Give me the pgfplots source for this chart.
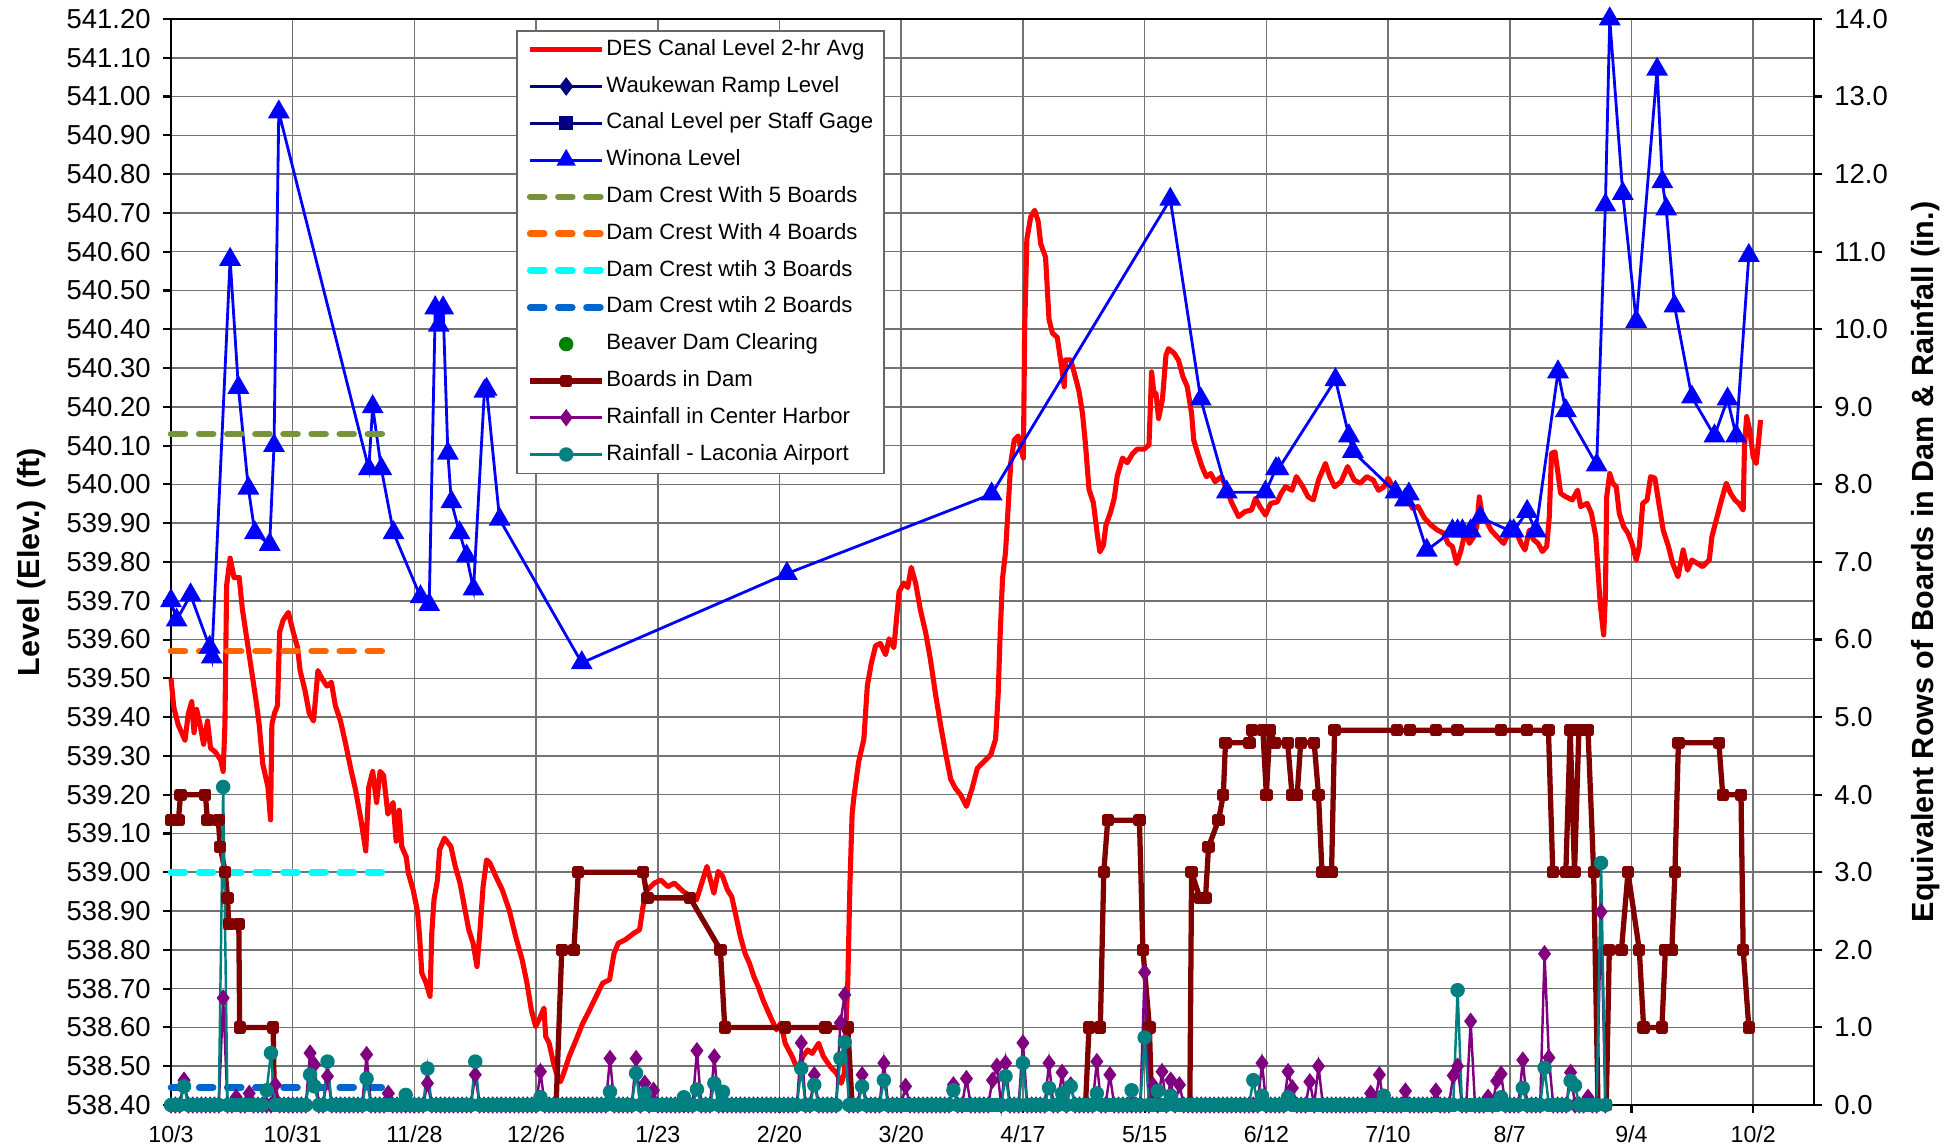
\documentclass[border=0pt]{standalone}
\usepackage{fontspec}
\setmainfont{Liberation Sans}
\usepackage{pgfplots}
\pgfplotsset{compat=1.18}
\usepackage{pgfplotstable}
\usetikzlibrary{calc}

\definecolor{canal}{RGB}{255,0,0}
\definecolor{winona}{RGB}{0,0,255}
\definecolor{navy}{RGB}{0,0,128}
\definecolor{crestfive}{RGB}{119,147,60}
\definecolor{crestfour}{RGB}{255,102,0}
\definecolor{crestthree}{RGB}{0,255,255}
\definecolor{cresttwo}{RGB}{0,102,204}
\definecolor{beaver}{RGB}{0,128,0}
\definecolor{boards}{RGB}{128,0,0}
\definecolor{harbor}{RGB}{128,0,128}
\definecolor{laconia}{RGB}{0,128,128}

% day 0 = 10/3
\pgfplotstableread{
d v
0 539.50
0.65 539.425
1.67 539.38
3.22 539.34
4.0 539.41
4.78 539.44
5.3 539.36
5.9 539.42
6.7 539.38
7.5 539.33
8.4 539.39
9.1 539.32
10.2 539.31
11.4 539.29
12.0 539.26
12.4 539.38
12.8 539.74
13.6 539.81
14.5 539.76
15.7 539.76
16.4 539.68
17.2 539.62
18.4 539.53
19.6 539.44
20.3 539.38
21.1 539.28
22.3 539.22
22.9 539.135
23.2 539.38
23.8 539.41
24.5 539.43
25.0 539.62
25.8 539.65
27.0 539.67
28.1 539.62
29.1 539.58
29.7 539.52
30.8 539.47
31.8 539.41
32.8 539.39
33.8 539.52
34.7 539.50
35.9 539.48
36.9 539.49
37.8 539.43
39.0 539.39
40.2 539.33
41.3 539.27
42.5 539.21
43.7 539.135
44.8 539.055
45.5 539.22
46.4 539.26
47.3 539.18
48.1 539.26
48.9 539.25
49.9 539.15
51.1 539.18
51.8 539.08
52.5 539.16
53.1 539.066
54.1 539.04
54.6 538.998
55.7 538.955
56.7 538.90
57.2 538.834
57.7 538.74
58.7 538.714
59.6 538.68
60.0 538.843
60.5 538.929
61.3 538.98
61.8 539.058
62.9 539.088
64.4 539.066
65.4 539.015
66.5 538.972
67.5 538.912
68.5 538.852
69.5 538.817
70.4 538.757
71.1 538.852
71.8 538.963
72.6 539.032
73.4 539.023
74.7 538.99
76.2 538.955
77.8 538.903
79.3 538.834
80.8 538.774
81.9 538.714
82.9 538.645
83.9 538.602
85.0 538.628
85.8 538.65
86.2 538.577
87.0 538.559
88.0 538.508
88.9 538.473
89.6 538.46
90.6 538.49
91.6 538.525
93.2 538.568
94.7 538.61
96.3 538.645
97.8 538.68
99.3 538.714
100.9 538.723
101.9 538.79
102.9 538.817
104.5 538.826
106.5 538.843
107.8 538.852
108.6 538.912
109.6 538.955
111.2 538.972
112.7 538.98
114.3 538.963
115.8 538.972
117.9 538.95
120.9 538.929
123.3 539.015
124.3 538.972
124.9 538.946
125.9 539.002
126.9 538.99
128.0 538.955
129.0 538.937
130.0 538.886
131.0 538.834
132.1 538.79
133.1 538.765
134.1 538.731
135.1 538.705
136.2 538.671
137.2 538.645
138.2 538.62
139.3 538.594
140.3 538.611
141.3 538.559
142.9 538.525
144.2 538.49
145.4 538.525
146.5 538.542
147.5 538.533
149.0 538.559
150.1 538.525
151.6 538.50
153.1 538.482
154.2 538.456
154.9 538.482
155.2 538.585
155.7 538.714
156.2 538.97
156.7 539.15
157.1 539.193
158.2 539.285
159.4 539.343
160.2 539.481
161.1 539.538
162.1 539.584
163.2 539.59
164.4 539.561
165.2 539.602
166.3 539.579
167.5 539.723
168.6 539.746
169.5 539.734
170.3 539.786
171.3 539.746
172.4 539.677
173.6 539.619
174.7 539.55
175.9 539.458
177.1 539.377
178.2 539.308
179.4 539.239
180.5 539.216
181.7 539.199
183.0 539.17
184.3 539.216
185.5 539.268
187.0 539.285
188.6 539.303
189.7 539.343
190.3 539.458
190.7 539.596
191.3 539.757
192.0 539.826
192.6 539.941
193.2 540.056
194.0 540.114
194.9 540.125
195.5 540.091
196.1 540.068
196.4 540.402
196.9 540.632
197.8 540.69
198.7 540.707
199.5 540.678
200.1 540.62
201.2 540.586
202.0 540.425
202.8 540.39
203.9 540.379
204.8 540.31
205.5 540.252
205.8 540.321
207.0 540.321
208.1 540.275
208.9 540.24
209.7 540.183
210.4 540.102
211.2 539.987
212.2 539.953
213.1 539.872
213.7 539.826
214.5 539.843
215.1 539.895
216.2 539.93
217.0 539.964
217.7 540.022
218.9 540.068
220.0 540.056
221.2 540.079
222.3 540.091
223.9 540.091
225.0 540.102
225.6 540.29
226.2 540.23
226.6 540.235
227.2 540.17
228.1 540.22
228.9 540.333
229.5 540.35
230.8 540.338
231.8 540.32
232.8 540.278
233.8 540.252
234.8 540.183
235.3 540.114
236.2 540.08
237.2 540.046
238.2 540.02
239.2 540.028
240.2 540.007
241.7 540.02
242.6 539.994
244.1 539.951
245.6 539.917
247.1 539.93
248.6 539.934
249.5 539.964
250.5 539.943
251.8 539.921
253.0 539.951
254.5 539.955
255.4 539.977
256.4 539.994
257.9 539.985
258.9 540.02
260.4 539.994
261.6 539.968
262.8 539.96
264.0 540.011
265.6 540.054
266.6 540.02
267.7 539.994
269.2 540.007
270.7 540.046
272.2 540.011
273.6 540.003
275.1 540.02
276.6 540.011
277.8 539.985
279.1 539.994
280.0 540.016
281.5 539.985
283.0 539.968
284.5 539.96
285.7 539.938
286.9 539.943
288.4 539.913
289.9 539.895
291.4 539.882
292.8 539.874
293.8 539.848
294.8 539.84
295.8 539.796
296.8 539.831
297.8 539.882
298.7 539.848
299.7 539.865
300.4 539.891
301.0 539.968
301.7 539.917
302.7 539.904
303.7 539.882
305.1 539.865
306.6 539.848
308.1 539.882
309.6 539.874
310.6 539.848
311.5 539.831
312.5 539.882
313.5 539.857
314.5 539.848
315.5 539.827
316.5 539.84
317.1 539.917
317.6 540.08
318.4 540.084
319.1 540.028
319.7 539.977
320.9 539.968
322.4 539.96
323.6 539.985
324.3 539.943
325.8 539.951
326.8 539.925
327.8 539.865
328.3 539.779
328.8 539.693
329.6 539.612
330.0 539.711
330.3 539.968
331.0 540.028
331.7 540.003
332.5 539.994
333.2 539.925
334.2 539.891
335.2 539.874
336.1 539.848
337.1 539.805
337.8 539.84
338.6 539.951
339.6 539.96
340.4 540.02
341.4 540.016
342.3 539.951
343.3 539.882
344.5 539.84
345.5 539.796
346.7 539.762
347.9 539.831
348.9 539.779
349.9 539.805
351.2 539.796
352.4 539.788
353.9 539.805
354.5 539.865
355.5 539.908
356.5 539.951
357.8 540.003
358.8 539.977
359.8 539.96
360.7 539.951
361.7 539.934
362.0 540.097
362.5 540.175
363.2 540.14
364.0 540.071
364.7 540.054
365.2 540.106
365.7 540.166
}\canal

\pgfplotstableread{
d v
0 539.70
1.3 539.65
4.5 539.715
8.9 539.58
9.4 539.555
13.6 540.58
15.5 540.25
17.8 539.99
19.3 539.875
22.7 539.845
23.7 540.10
24.8 540.96
45.5 540.04
46.4 540.20
48.4 540.04
51.2 539.875
57.4 539.71
59.4 539.69
60.8 540.455
61.6 540.41
62.6 540.455
63.7 540.08
64.5 539.955
66.4 539.875
68.0 539.815
69.6 539.73
72.1 540.24
72.6 540.245
75.6 539.91
94.5 539.54
141.7 539.77
188.8 539.975
229.9 540.735
236.9 540.22
242.9 539.98
251.8 539.98
254.2 540.04
254.8 540.04
267.9 540.27
271.0 540.125
271.9 540.085
281.7 539.98
283.9 539.96
284.8 539.975
288.9 539.83
294.8 539.88
296.0 539.88
297.1 539.88
299.0 539.88
301.2 539.915
308.1 539.88
308.9 539.88
312.0 539.93
314.0 539.88
319.1 540.29
320.9 540.19
328.0 540.05
330.0 540.72
331.0 541.20
334.0 540.75
337.1 540.42
341.9 541.07
343.1 540.78
344.0 540.71
345.9 540.46
349.9 540.225
355.1 540.125
358.1 540.22
360.1 540.125
363.0 540.59
}\winona

\pgfplotstableread{
d v
0 3.67
1.7 3.67
2.2 4.0
7.9 4.0
8.4 3.67
10.9 3.67
11.3 3.33
12.5 3.0
13.0 2.67
13.3 2.33
15.6 2.33
15.8 1.0
23.5 1.0
23.8 0
88.6 0
89.9 2.0
92.7 2.0
93.7 3.0
108.6 3.0
109.6 2.67
119.4 2.67
126.4 2.0
127.4 1.0
141.3 1.0
150.6 1.0
155.7 1.0
156.7 0
210.4 0
211.2 1.0
213.8 1.0
214.6 3.0
215.5 3.67
222.8 3.67
223.6 2.0
225.1 1.0
225.6 0
234.4 0
234.8 3.0
236.7 2.67
238.0 2.67
238.7 3.33
241.0 3.67
242.1 4.0
242.6 4.67
248.1 4.67
248.7 4.83
251.2 4.83
252.0 4.0
252.8 4.83
254.0 4.67
256.9 4.67
257.9 4.0
259.1 4.0
259.9 4.67
263.0 4.67
264.0 4.0
264.8 3.0
267.0 3.0
267.7 4.83
282.0 4.83
285.0 4.83
291.0 4.83
296.0 4.83
306.0 4.83
312.0 4.83
316.9 4.83
317.9 3.0
320.9 3.0
321.9 4.83
322.9 3.0
323.9 4.83
326.0 4.83
327.3 3.0
328.3 0
330.2 0
330.9 2.0
333.7 2.0
335.2 3.0
337.8 2.0
338.8 1.0
343.0 1.0
343.8 2.0
345.3 2.0
346.0 3.0
346.8 4.67
356.1 4.67
357.0 4.0
361.2 4.0
361.7 2.0
363.0 1.0
}\boardsdam

% daily rainfall: Center Harbor (ch), Laconia Airport (la)
\pgfplotstableread[row sep=\\]{
d ch la\\
0 0 0\\1 0 0\\2 0 0\\3 .32 .24\\4 0 0\\5 0 0\\6 0 0\\7 0 0\\8 0 0\\9 0 0\\
10 0 0\\11 0 0\\12 1.38 4.10\\13 0 0\\14 0 0\\15 .10 0\\16 0 0\\17 0 0\\18 .15 0\\19 0 0\\
20 0 0\\21 0 0\\22 0 .19\\23 0 .67\\24 .26 0\\25 0 0\\26 0 0\\27 0 0\\28 0 0\\29 0 0\\
30 0 0\\31 0 0\\32 .67 .39\\33 .52 .24\\34 0 0\\35 0 0\\36 .37 .56\\37 0 0\\38 0 0\\39 0 0\\
40 0 0\\41 0 0\\42 0 0\\43 0 0\\44 0 0\\45 .65 .34\\46 0 0\\47 0 0\\48 0 0\\49 0 0\\
50 .15 0\\51 0 0\\52 0 0\\53 0 0\\54 0 .13\\55 0 0\\56 0 0\\57 0 0\\58 0 0\\59 .28 .47\\
60 0 0\\61 0 0\\62 0 0\\63 0 0\\64 0 0\\65 0 0\\66 0 0\\67 0 0\\68 0 0\\69 0 0\\
70 .39 .56\\71 0 0\\72 0 0\\73 0 0\\74 0 0\\75 0 0\\76 0 0\\77 0 0\\78 0 0\\79 0 0\\
80 0 0\\81 0 0\\82 0 0\\83 0 0\\84 0 0\\85 .43 .10\\86 0 0\\87 0 0\\88 0 0\\89 0 0\\
90 0 0\\91 0 0\\92 0 0\\93 0 0\\94 0 0\\95 0 0\\96 0 0\\97 0 0\\98 0 0\\99 0 0\\
100 0 0\\101 .60 .17\\102 0 0\\103 0 0\\104 0 0\\105 0 0\\106 0 0\\107 .60 .41\\108 0 0\\109 .28 .15\\
110 0 0\\111 .19 0\\112 0 0\\113 0 0\\114 0 0\\115 0 0\\116 0 0\\117 0 0\\118 0 .10\\119 0 0\\
120 0 0\\121 .70 .20\\122 0 0\\123 0 0\\124 0 0\\125 .62 .28\\126 0 0\\127 0 .17\\128 0 0\\129 0 0\\
130 0 0\\131 0 0\\132 0 0\\133 0 0\\134 0 0\\135 0 0\\136 0 0\\137 0 0\\138 0 0\\139 0 0\\
140 0 0\\141 0 0\\142 0 0\\143 0 0\\144 0 0\\145 .80 .47\\146 0 0\\147 0 0\\148 .39 .26\\149 0 0\\
150 0 0\\151 0 0\\152 0 0\\153 0 0\\154 1.06 .60\\155 1.42 .81\\156 0 0\\157 0 0\\158 0 0\\159 .39 .24\\
160 0 0\\161 0 0\\162 0 0\\163 0 0\\164 .54 .32\\165 0 0\\166 0 0\\167 0 0\\168 0 0\\169 .24 0\\
170 0 0\\171 0 0\\172 0 0\\173 0 0\\174 0 0\\175 0 0\\176 0 0\\177 0 0\\178 0 0\\179 0 0\\
180 .26 .19\\181 0 0\\182 0 0\\183 .34 0\\184 0 0\\185 0 0\\186 0 0\\187 0 0\\188 0 0\\189 .32 0\\
190 .50 0\\191 0 0\\192 .54 .37\\193 0 0\\194 0 0\\195 0 0\\196 .80 .54\\197 0 0\\198 0 0\\199 0 0\\
200 0 0\\201 0 0\\202 .54 .22\\203 0 0\\204 0 0\\205 .42 .15\\206 0 0\\207 .26 .24\\208 0 0\\209 0 0\\
210 0 0\\211 0 0\\212 0 0\\213 .56 .15\\214 0 0\\215 0 0\\216 .39 0\\217 0 0\\218 0 0\\219 0 0\\
220 0 0\\221 0 .19\\222 0 0\\223 0 0\\224 1.71 .87\\225 0 0\\226 .25 0\\227 0 .18\\228 .43 0\\229 0 0\\
230 .32 .12\\231 0 0\\232 .26 0\\233 0 0\\234 0 0\\235 0 0\\236 0 0\\237 0 0\\238 0 0\\239 0 0\\
240 0 0\\241 0 0\\242 0 0\\243 0 0\\244 0 0\\245 0 0\\246 0 0\\247 0 0\\248 0 0\\249 0 .32\\
250 0 0\\251 .54 .12\\252 0 0\\253 0 0\\254 0 0\\255 0 0\\256 0 0\\257 .43 .10\\258 .22 0\\259 0 0\\
260 0 0\\261 0 0\\262 .30 0\\263 0 0\\264 .50 0\\265 0 0\\266 0 0\\267 0 0\\268 0 0\\269 0 0\\
270 0 0\\271 0 0\\272 0 0\\273 0 0\\274 0 0\\275 0 0\\276 .15 0\\277 0 0\\278 .39 0\\279 0 .12\\
280 0 0\\281 0 0\\282 0 0\\283 0 0\\284 .18 0\\285 0 0\\286 0 0\\287 0 0\\288 0 0\\289 0 0\\
290 0 0\\291 .18 0\\292 0 0\\293 0 0\\294 0 0\\295 .38 0\\296 .50 1.48\\297 0 0\\298 0 0\\299 1.08 0\\
300 0 0\\301 0 0\\302 0 0\\303 .10 0\\304 0 0\\305 .31 0\\306 .40 .10\\307 0 0\\308 0 0\\309 0 0\\
310 0 0\\311 .58 .22\\312 0 0\\313 0 0\\314 0 0\\315 0 0\\316 1.95 .48\\317 .61 0\\318 0 0\\319 0 0\\
320 0 0\\321 0 0\\322 .42 .31\\323 0 .25\\324 0 0\\325 0 0\\326 .10 0\\327 0 0\\328 0 0\\329 2.49 3.12\\
330 0 0\\
}\rain

\pgfplotsset{
  base/.style={
    scale only axis, width=16.43cm, height=10.86cm,
    xmin=0, xmax=378, clip=false,
    tick align=outside, major tick length=0.08cm,
    tick style={black, line width=0.6pt},
    axis line style={black, line width=0.8pt},
    y tick label style={font=\fontsize{7.8}{9}\selectfont},
    ylabel style={font=\fontsize{8.7}{10}\selectfont\bfseries},
  },
  legend image code/.code={%
    \draw[mark repeat=2,mark phase=2,#1] plot coordinates {(0cm,0cm) (0.36cm,0cm) (0.72cm,0cm)};},
  crest/.style={line width=1.85pt, line cap=round, dash pattern=on 4pt off 4pt},
}

\begin{document}
\begin{tikzpicture}
\begin{axis}[base, name=main,
  ymin=538.4, ymax=541.2,
  ytick={538.4,538.5,538.6,538.7,538.8,538.9,539.0,539.1,539.2,539.3,539.4,539.5,539.6,539.7,539.8,539.9,540.0,540.1,540.2,540.3,540.4,540.5,540.6,540.7,540.8,540.9,541.0,541.1,541.2},
  xtick={0,28,...,364},
  xticklabels={10/3,10/31,11/28,12/26,1/23,2/20,3/20,4/17,5/15,6/12,7/10,8/7,9/4,10/2},
  x tick label style={font=\fontsize{6.6}{8}\selectfont},
  y tick label style={/pgf/number format/.cd, fixed, fixed zerofill, precision=2, 1000 sep={}, assume math mode=true},
  ytick pos=left, xtick pos=bottom,
  grid=major, major grid style={black!55, line width=0.45pt},
  ylabel={Level (Elev.) (ft)},
  ylabel style={at={(axis description cs:-0.085,0.5)}, anchor=center},
]
\addplot[canal, line width=1.45pt, line join=round] table[x=d, y=v] {\canal};
\addplot[winona, line width=0.8pt, mark=triangle*, mark size=2.8pt, mark options={solid}] table[x=d, y=v] {\winona};
\addplot[crest, crestfive] coordinates {(0,540.13) (50,540.13)};
\addplot[crest, crestfour] coordinates {(0,539.57) (50,539.57)};
\addplot[crest, crestthree] coordinates {(0,539.00) (50,539.00)};
\addplot[crest, cresttwo] coordinates {(0,538.445) (50,538.445)};
\end{axis}

\begin{axis}[base,
  ymin=0, ymax=14, ytick={0,1,...,14},
  axis y line*=right, hide x axis,
  y tick label style={/pgf/number format/.cd, fixed, fixed zerofill, precision=1, assume math mode=true},
  ylabel={Equivalent Rows of Boards in Dam \& Rainfall (in.)},
  ylabel style={at={(axis description cs:1.0676,0.5)}, anchor=center},
  legend style={at={(rel axis cs:0.21,0.99)}, anchor=north west,
    draw=black!60, line width=0.5pt, fill=white,
    font=\fontsize{6.3}{7}\selectfont,
    inner xsep=1.0mm, inner ysep=0.3mm, row sep=0.48mm,
    nodes={inner xsep=0.1mm, inner ysep=0.6mm, text height=1.55mm, text depth=0.45mm},
    cells={anchor=west}},
]
\addlegendimage{canal, line width=1.45pt}
\addlegendimage{navy, line width=0.8pt, mark=diamond*, mark size=2pt}
\addlegendimage{navy, line width=0.8pt, mark=square*, mark size=1.6pt}
\addlegendimage{winona, line width=0.8pt, mark=triangle*, mark size=2.4pt}
\addlegendimage{crest, crestfive}
\addlegendimage{crest, crestfour}
\addlegendimage{crest, crestthree}
\addlegendimage{crest, cresttwo}
\addlegendimage{only marks, beaver, mark=*, mark size=1.8pt}
\addplot[boards, line width=1.5pt, mark=square*, mark size=1.0pt, line join=round] table[x=d, y=v] {\boardsdam};
\addplot[harbor, line width=0.7pt, mark=diamond*, mark size=1.9pt] table[x=d, y=ch] {\rain};
\addplot[laconia, line width=0.7pt, mark=*, mark size=1.7pt] table[x=d, y=la] {\rain};
\legend{DES Canal Level 2-hr Avg, Waukewan Ramp Level, Canal Level per Staff Gage, Winona Level,
  Dam Crest With 5 Boards, Dam Crest With 4 Boards, Dam Crest wtih 3 Boards, Dam Crest wtih 2 Boards,
  Beaver Dam Clearing, Boards in Dam, Rainfall in Center Harbor, Rainfall - Laconia Airport}
\end{axis}

\pgfresetboundingbox
\path[use as bounding box] ($(main.south west)+(-1.71cm,-0.43cm)$) rectangle ($(main.north east)+(1.45cm,0.19cm)$);
\end{tikzpicture}
\end{document}
